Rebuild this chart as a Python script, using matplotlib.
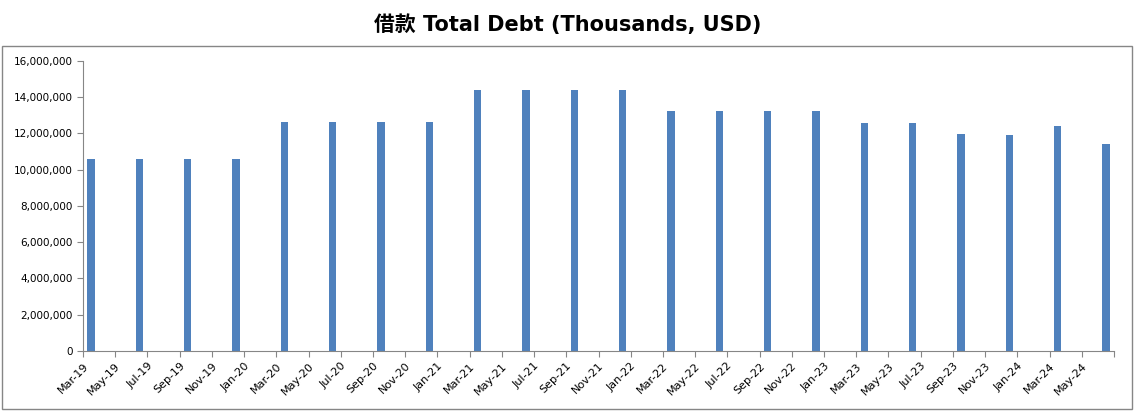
import numpy as np
import pandas as pd
import matplotlib.pyplot as plt
from matplotlib.patches import Rectangle
from matplotlib.ticker import FuncFormatter

plt.rcParams["font.family"] = ["DejaVu Sans", "Noto Sans CJK SC"]

quarters = ["2019-03", "2019-06", "2019-09", "2019-12",
            "2020-03", "2020-06", "2020-09", "2020-12",
            "2021-03", "2021-06", "2021-09", "2021-12",
            "2022-03", "2022-06", "2022-09", "2022-12",
            "2023-03", "2023-06", "2023-09", "2023-12",
            "2024-03", "2024-06"]
debt = [10580000, 10580000, 10580000, 10580000,
        12620000, 12620000, 12620000, 12620000,
        14390000, 14390000, 14390000, 14390000,
        13230000, 13230000, 13230000, 13230000,
        12570000, 12570000, 11960000, 11910000,
        12400000, 11410000]

start = pd.Period("2019-03", freq="M")
end = pd.Period("2024-07", freq="M")
pos = np.array([(pd.Period(q, freq="M") - start).n for q in quarters])
n_months = (end - start).n

blue = "#4F81BD"
gray = "#868686"

fig = plt.figure(figsize=(11.35, 4.15), dpi=100)
fig.patches.append(Rectangle((2/1135, 1-409/415), 1130/1135, 363/415,
                             transform=fig.transFigure, fill=False,
                             edgecolor=gray, lw=1))
ax = fig.add_axes([83/1135, 1-351/415, (1114-83)/1135, (351-60.7)/415])

ax.bar(pos + 0.5, debt, width=0.45, color=blue)

ax.set_xlim(0, n_months)
ax.set_ylim(0, 16000000)
ax.set_yticks(np.arange(0, 16000001, 2000000))
ax.yaxis.set_major_formatter(FuncFormatter(lambda v, p: f"{int(v):,}"))

tick_pos = np.arange(0, n_months + 1, 2)
tick_lab = [(start + int(t)).strftime("%b-%y") for t in tick_pos]
tick_lab[-1] = ""
ax.set_xticks(tick_pos)
ax.set_xticklabels(tick_lab, rotation=45, ha="right", rotation_mode="anchor")

for s in ["top", "right"]:
    ax.spines[s].set_visible(False)
for s in ["left", "bottom"]:
    ax.spines[s].set_color(gray)
ax.tick_params(colors=gray, labelcolor="black", length=4)
ax.tick_params(axis="y", labelsize=7.5)
ax.tick_params(axis="x", labelsize=8, pad=3)

fig.text(0.5, 1-25/415, "借款 Total Debt (Thousands, USD)", ha="center",
         va="center", fontsize=15, fontweight="bold")

plt.savefig("out.png", dpi=100)
